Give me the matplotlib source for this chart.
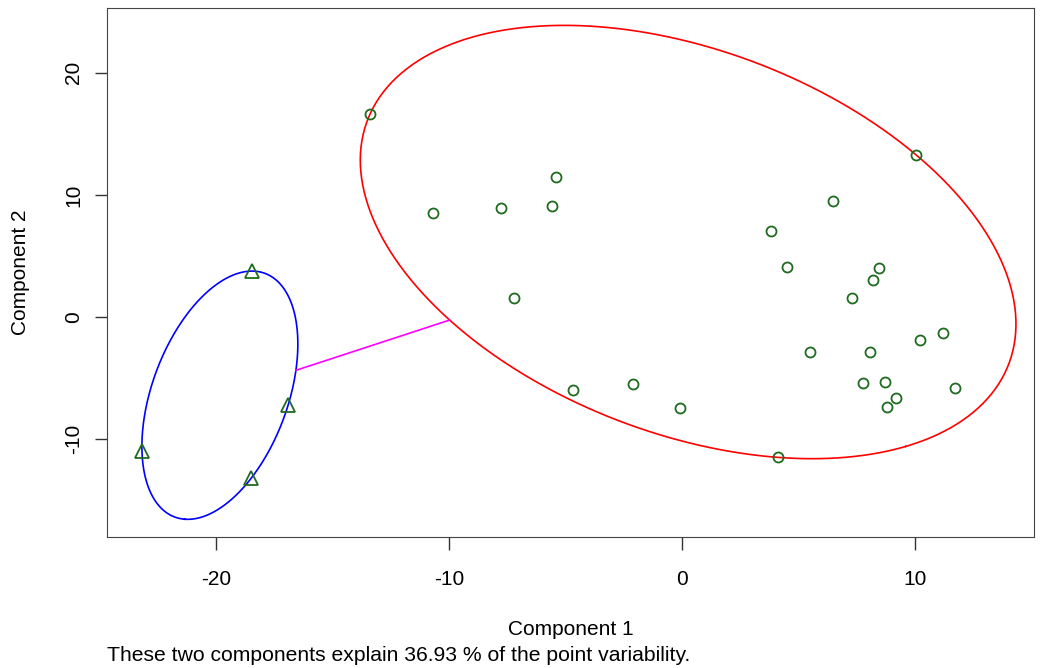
import numpy as np
import matplotlib.pyplot as plt

plt.rcParams['font.family'] = ['Liberation Sans', 'DejaVu Sans']
plt.rcParams['axes.unicode_minus'] = False

# cluster 1 (circles)
c1_x = [-13.39, -10.69, -7.77, -5.41, -5.58, -7.21, -4.68, -2.10, -0.09, 3.82,
        4.51, 6.48, 10.04, 5.49, 7.30, 8.20, 8.45, 8.07, 7.77, 8.71,
        8.80, 9.18, 10.21, 11.20, 11.72, 4.12]
c1_y = [16.64, 8.52, 8.93, 11.48, 9.10, 1.56, -5.98, -5.49, -7.46, 7.05,
        4.10, 9.51, 13.28, -2.87, 1.56, 3.03, 4.02, -2.87, -5.41, -5.33,
        -7.38, -6.64, -1.89, -1.31, -5.82, -11.48]
# cluster 2 (triangles)
c2_x = [-18.45, -16.91, -23.18, -18.50]
c2_y = [3.77, -7.21, -10.98, -13.20]

variability = 36.93


def mvee(pts, tol=1e-6, max_iter=20000):
    # minimum volume enclosing ellipse (Khachiyan)
    n, d = pts.shape
    Q = np.vstack([pts.T, np.ones(n)])
    u = np.ones(n) / n
    for _ in range(max_iter):
        X = (Q * u) @ Q.T
        M = np.sum(Q * np.linalg.solve(X, Q), axis=0)
        j = np.argmax(M)
        if M[j] - d - 1.0 < tol:
            break
        step = (M[j] - d - 1.0) / ((d + 1) * (M[j] - 1.0))
        u = (1 - step) * u
        u[j] += step
    c = pts.T @ u
    A = np.linalg.inv((pts.T * u) @ pts - np.outer(c, c)) / d
    return c, A


def ellipse_curve(c, A, n=400):
    vals, vecs = np.linalg.eigh(A)
    t = np.linspace(0, 2 * np.pi, n)
    circ = np.vstack([np.cos(t) / np.sqrt(vals[0]), np.sin(t) / np.sqrt(vals[1])])
    pts = vecs @ circ
    return pts[0] + c[0], pts[1] + c[1]


p1 = np.column_stack([c1_x, c1_y])
p2 = np.column_stack([c2_x, c2_y])
cen1, A1 = mvee(p1)
cen2, A2 = mvee(p2)

fig = plt.figure(figsize=(10.41, 6.68), dpi=100)
ax = fig.add_axes([0.1028, 0.196, 0.8905, 0.792])

ex, ey = ellipse_curve(cen1, A1)
ax.plot(ex, ey, color='red', lw=1.2)
ex, ey = ellipse_curve(cen2, A2)
ax.plot(ex, ey, color='blue', lw=1.2)

# segment between the ellipse borders along the line of centres
d = cen1 - cen2
s2 = cen2 + d / np.sqrt(d @ A2 @ d)
s1 = cen1 - d / np.sqrt(d @ A1 @ d)
ax.plot([s2[0], s1[0]], [s2[1], s1[1]], color='magenta', lw=1.2)

ax.plot(c1_x, c1_y, 'o', ms=7.2, mfc='none', mec='#1f6b1f', mew=1.3)
ax.plot(c2_x, c2_y, '^', ms=10, mfc='none', mec='#1f6b1f', mew=1.3)

ax.set_xlim(-24.68, 15.1)
ax.set_ylim(-18.0, 25.3)
ax.set_xticks([-20, -10, 0, 10])
ax.set_yticks([-10, 0, 10, 20])
ax.tick_params(labelsize=15, length=9, width=1, colors='#333333', labelcolor='black')
ax.tick_params(axis='x', pad=15)
ax.tick_params(axis='y', pad=8)
for lab in ax.get_yticklabels():
    lab.set_rotation(90)
    lab.set_va('center')
for sp in ax.spines.values():
    sp.set_color('#444444')

ax.set_xlabel('Component 1', fontsize=15, labelpad=22)
ax.set_ylabel('Component 2', fontsize=15, labelpad=25)
fig.text(0.1028, 0.005, 'These two components explain %.2f %% of the point variability.' % variability,
         fontsize=15.2, ha='left', va='bottom')

fig.savefig('out.png', dpi=100)
